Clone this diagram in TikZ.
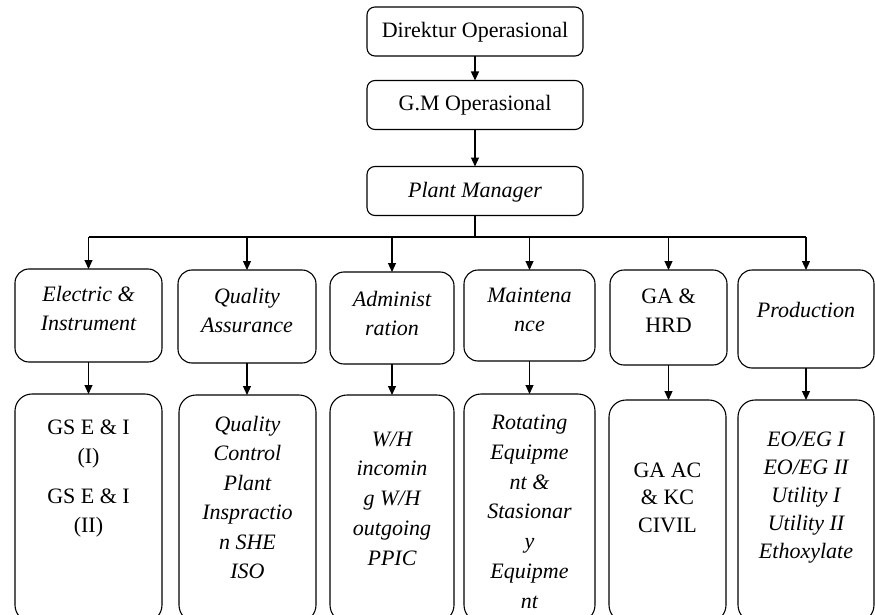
\documentclass[tikz,border=0pt]{standalone}
\usepackage{fontspec}
\setmainfont{Liberation Serif}
\usetikzlibrary{arrows.meta,calc}
\begin{document}
\begin{tikzpicture}[x=1pt,y=-1pt,
  line width=1.1pt,
  box/.style={draw, rectangle, inner sep=0pt, outer sep=0pt},
  topbox/.style={box, rounded corners=8pt, minimum width=216pt, minimum height=49pt},
  midbox/.style={box, rounded corners=14pt},
  lowbox/.style={box, rounded corners=17pt},
  arr/.style={-{Triangle[length=9pt,width=8pt]}},
  txt/.style={anchor=base, align=center, inner sep=0pt, font=\fontsize{22}{#1}\selectfont},
  txt/.default=28.5]
\useasboundingbox (0,0) rectangle (875,615);
\clip (0,0) rectangle (875,615);

% top chain
\node[topbox] (dir) at (475,31.5) {};
\node[topbox] (gm) at (475,105) {};
\node[topbox] (pm) at (475,191) {};
\node[txt] (tdir) at (475,38) {Direktur Operasional};
\node[txt] (tgm) at (475,111) {G.M Operasional};
\node[txt] (tpm) at (475,197) {\itshape Plant Manager};

% level 2 boxes
\node[midbox, minimum width=147pt, minimum height=93pt] (e)  at (88.5,315.5) {};
\node[midbox, minimum width=138pt, minimum height=93pt] (qa) at (247,316.5) {};
\node[midbox, minimum width=124pt, minimum height=92pt] (ad) at (392,318) {};
\node[midbox, minimum width=131pt, minimum height=91pt] (mt) at (529.5,315.5) {};
\node[midbox, minimum width=117pt, minimum height=95pt] (ga) at (668.5,317.5) {};
\node[midbox, minimum width=136pt, minimum height=98pt] (pr) at (806,319) {};

% (base anchor = baseline of last line)
\node[txt] (te)  at (88.5,330) {\itshape Electric \&\\\itshape Instrument};
\node[txt] (tqa) at (247,332) {\itshape Quality\\\itshape Assurance};
\node[txt] (tad) at (392,335) {\itshape Administ\\\itshape ration};
\node[txt] (tmt) at (529.5,331) {\itshape Maintena\\\itshape nce};
\node[txt] (tga) at (668.5,332) {GA \&\\HRD};
\node[txt] (tpr) at (806,317) {\itshape Production};

% level 3 boxes
\node[lowbox, minimum width=147pt, minimum height=228pt] (gs) at (88.5,508) {};
\node[lowbox, minimum width=137pt, minimum height=227pt] (qc) at (247.5,508.5) {};
\node[lowbox, minimum width=124pt, minimum height=227pt] (wh) at (392,508.5) {};
\node[lowbox, minimum width=131pt, minimum height=228pt] (ro) at (529.5,508) {};
\node[lowbox, minimum width=117pt, minimum height=222pt] (gc) at (667.5,511) {};
\node[lowbox, minimum width=136pt, minimum height=222pt] (eo) at (806,511) {};

\node[txt=29] (tgs) at (88.5,532) {GS E \& I\\(I)\\[11pt]GS E \& I\\(II)};
\node[txt=29.5] (tqc) at (247.5,578.5) {\itshape Quality\\\itshape Control\\\itshape Plant\\\itshape Inspractio\\\itshape n SHE\\\itshape ISO};
\node[txt=29.7] (twh) at (392,565) {\itshape W/H\\\itshape incomin\\\itshape g W/H\\\itshape outgoing\\\itshape PPIC};
\node[txt=29.7] (tro) at (529.5,608) {\itshape Rotating\\\itshape Equipme\\\itshape nt \&\\\itshape Stasionar\\\itshape y\\\itshape Equipme\\\itshape nt};
\node[txt=27.5] (tgc) at (667.5,532) {GA AC\\\& KC\\CIVIL};
\node[txt=27.8] (teo) at (806,558) {\itshape EO/EG I\\\itshape EO/EG II\\\itshape Utility I\\\itshape Utility II\\\itshape Ethoxylate};

% connectors top
\draw[arr] (dir.south) -- (gm.north);
\draw[arr] (gm.south) -- (pm.north);

% bus
\coordinate (busL) at (88.5,237);
\coordinate (busR) at (806,237);
\draw (pm.south) -- (pm.south |- busL);
\draw (busL) -- (busR);
\foreach \n in {e,qa,ad,mt,ga,pr}{
  \draw[arr] (\n.north |- busL) -- (\n.north);
}

% level 2 -> level 3
\draw[arr] (e.south) -- (e.south |- gs.north);
\draw[arr] (qa.south) -- (qa.south |- qc.north);
\draw[arr] (ad.south) -- (ad.south |- wh.north);
\draw[arr] (mt.south) -- (mt.south |- ro.north);
\draw[arr] (ga.south) -- (ga.south |- gc.north);
\draw[arr] (pr.south) -- (pr.south |- eo.north);
\end{tikzpicture}
\end{document}
